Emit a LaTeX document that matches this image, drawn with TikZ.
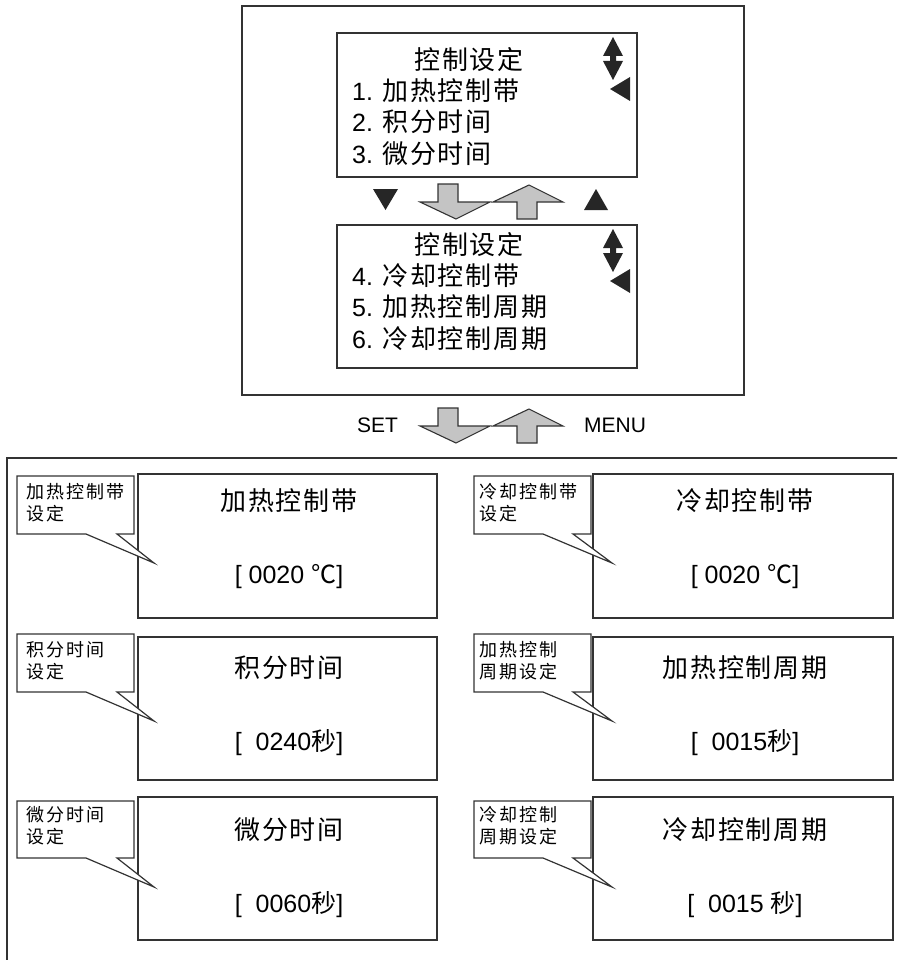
\documentclass[tikz,border=0pt]{standalone}
\usepackage{fontspec}
\setmainfont{Liberation Sans}
\newfontfamily\cjk{Noto Sans CJK SC}[LetterSpace=7]
\newfontfamily\cjks{Noto Sans CJK SC}[LetterSpace=11]
\newfontfamily\cjkp{Noto Sans CJK SC}
\definecolor{lc}{HTML}{333333}
\definecolor{ag}{HTML}{C4C4C4}
\begin{document}
\begin{tikzpicture}[x=1pt,y=-1pt,line join=miter]
\tikzset{
  frame/.style={draw=lc,line width=1.6pt,inner sep=0pt,fill=white},
  disp/.style={draw=lc,line width=1.8pt,inner sep=0pt,fill=white},
  garrow/.style={draw=lc,line width=1.1pt,fill=ag},
  blk/.style={fill=black!85,draw=none},
  callout/.style={draw=lc,line width=1.2pt,fill=white},
  menutxt/.style={inner sep=0pt,font=\fontsize{25}{30}\selectfont},
  titletxt/.style={inner sep=0pt,font=\fontsize{26}{30}\selectfont\cjk},
  valtxt/.style={inner sep=0pt,font=\fontsize{25}{30}\selectfont},
  calltxt/.style={inner sep=0pt,align=left,anchor=west,font=\fontsize{18}{22}\selectfont\cjks},
  keytxt/.style={inner sep=0pt,font=\fontsize{21}{24}\selectfont}
}
\useasboundingbox (0,0) rectangle (897,960);
\fill[white] (0,0) rectangle (897,960);
\clip (0,0) rectangle (897,960);

% ---------- upper panel ----------
\node[frame,minimum width=502pt,minimum height=389pt] (outer) at (493,200.5) {};
\node[disp,minimum width=300pt,minimum height=144pt] (m1) at (487,105) {};
\node[disp,minimum width=300pt,minimum height=143pt] (m2) at (487,296.5) {};

\node[titletxt] (m1t) at (469,60) {控制设定};
\node[menutxt,anchor=west] (m1a) at (352,91) {1. {\fontsize{26}{30}\selectfont\cjk 加热控制带}};
\node[menutxt,anchor=west] (m1b) at (352,122) {2. {\fontsize{26}{30}\selectfont\cjk 积分时间}};
\node[menutxt,anchor=west] (m1c) at (352,154) {3. {\fontsize{26}{30}\selectfont\cjk 微分时间}};

\node[titletxt] (m2t) at (469,245) {控制设定};
\node[menutxt,anchor=west] (m2a) at (352,276) {4. {\fontsize{26}{30}\selectfont\cjk 冷却控制带}};
\node[menutxt,anchor=west] (m2b) at (352,307) {5. {\fontsize{26}{30}\selectfont\cjk 加热控制周期}};
\node[menutxt,anchor=west] (m2c) at (352,339) {6. {\fontsize{26}{30}\selectfont\cjk 冷却控制周期}};

% scroll icons
\foreach \dy in {0,192}{
  \begin{scope}[yshift=-\dy pt]
    \path[blk] (613,37) -- (623,56) -- (616,56) -- (616,61) -- (623,61) -- (613,80)
      -- (603,61) -- (610,61) -- (610,56) -- (603,56) -- cycle;
    \path[blk] (610,89) -- (630,77) -- (630,101) -- cycle;
  \end{scope}
}

% black triangles between menus
\path[blk] (373,189) -- (398,189) -- (385.5,210) -- cycle;
\path[blk] (584,210) -- (608,210) -- (596,189) -- cycle;

% grey arrows (menu scroll) and SET / MENU arrows
\foreach \dy in {0,224}{
  \begin{scope}[yshift=-\dy pt]
    \draw[garrow] (438,184) -- (458,184) -- (458,202) -- (490,202) -- (456,219)
      -- (420,202) -- (438,202) -- cycle;
    \draw[garrow] (517,219) -- (537,219) -- (537,202) -- (563,202) -- (529,185)
      -- (493,202) -- (517,202) -- cycle;
  \end{scope}
}
\node[keytxt] (set) at (377.5,425) {SET};
\node[keytxt] (menu) at (615,425) {MENU};

% ---------- lower panel ----------
\draw[lc,line width=1.6pt] (7,975) -- (7,458) -- (905,458);

% display boxes
\node[disp,minimum width=299pt,minimum height=144pt] (d1) at (287.5,546) {};
\node[disp,minimum width=299pt,minimum height=143pt] (d2) at (287.5,708.5) {};
\node[disp,minimum width=299pt,minimum height=143pt] (d3) at (287.5,868.5) {};
\node[disp,minimum width=299.5pt,minimum height=144pt] (d4) at (743,546) {};
\node[disp,minimum width=299.5pt,minimum height=143pt] (d5) at (743,708.5) {};
\node[disp,minimum width=299.5pt,minimum height=143pt] (d6) at (743,868.5) {};

\node[titletxt] (d1t) at (289,501) {加热控制带};
\node[valtxt] (d1v) at (289,577) {[ 0020 {\cjkp ℃}]};
\node[titletxt] (d2t) at (289,668) {积分时间};
\node[valtxt] (d2v) at (289,743) {[\ \ 0240{\cjkp 秒}]};
\node[titletxt] (d3t) at (289,830) {微分时间};
\node[valtxt] (d3v) at (289,905) {[\ \ 0060{\cjkp 秒}]};

\node[titletxt] (d4t) at (745,501) {冷却控制带};
\node[valtxt] (d4v) at (745,577) {[ 0020 {\cjkp ℃}]};
\node[titletxt] (d5t) at (745,668) {加热控制周期};
\node[valtxt] (d5v) at (745,743) {[\ \ 0015{\cjkp 秒}]};
\node[titletxt] (d6t) at (745,830) {冷却控制周期};
\node[valtxt] (d6v) at (745,905) {[\ \ 0015 {\cjkp 秒}]};

% callouts (left column)
\draw[callout] (17,476) -- (134,476) -- (134,534) -- (117,534) -- (154,563) -- (86,534) -- (17,534) -- cycle;
\draw[callout] (17,634) -- (134,634) -- (134,692) -- (117,692) -- (154,721) -- (86,692) -- (17,692) -- cycle;
\draw[callout] (17,801) -- (134,801) -- (134,858) -- (117,858) -- (154,887) -- (86,858) -- (17,858) -- cycle;
% callouts (right column)
\draw[callout] (474,476) -- (591,476) -- (591,534) -- (573,534) -- (612,563) -- (543,534) -- (474,534) -- cycle;
\draw[callout] (474,634) -- (591,634) -- (591,692) -- (573,692) -- (612,721) -- (543,692) -- (474,692) -- cycle;
\draw[callout] (474,801) -- (591,801) -- (591,858) -- (573,858) -- (612,887) -- (543,858) -- (474,858) -- cycle;

\node[calltxt] (c1) at (26,503) {加热控制带\\设定};
\node[calltxt] (c2) at (26,661) {积分时间\\设定};
\node[calltxt] (c3) at (26,826) {微分时间\\设定};
\node[calltxt] (c4) at (479,503) {冷却控制带\\设定};
\node[calltxt] (c5) at (479,661) {加热控制\\周期设定};
\node[calltxt] (c6) at (479,826) {冷却控制\\周期设定};
\end{tikzpicture}
\end{document}
